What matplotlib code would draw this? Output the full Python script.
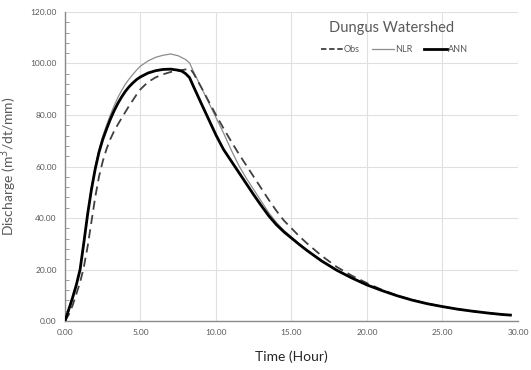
import matplotlib
matplotlib.use("Agg")
import matplotlib.pyplot as plt
from matplotlib.ticker import MultipleLocator, FormatStrFormatter
from matplotlib.lines import Line2D

plt.rcParams['font.family'] = ['Lato', 'DejaVu Sans']

# Time (hour) and discharge values
t_ann = [0, 0.25, 0.5, 0.75, 1.0, 1.25, 1.5, 1.75, 2.0, 2.25, 2.5, 2.75, 3.0, 3.25, 3.5, 3.75,
         4.0, 4.25, 4.5, 4.75, 5.0, 5.5, 6.0, 6.5, 7.0, 7.5, 7.75, 8.0, 8.25, 8.5, 8.75, 9.0,
         9.5, 10.0, 10.5, 11.0, 11.5, 12.0, 12.5, 13.0, 13.5, 14.0, 14.5, 15.0, 15.5, 16,
         17, 18, 19, 20, 21, 22, 23, 24, 25, 26, 27, 28, 29, 29.5]
q_ann = [0, 4.5, 9, 14, 20, 30.5, 41.5, 51, 59, 65.5, 70.5, 74.5, 78.3, 81.6, 84.5, 87,
         89.2, 91, 92.5, 93.8, 94.8, 96.3, 97.2, 97.7, 97.8, 97.4, 97.0, 96.0, 94.5, 91.2, 88, 84.8,
         78.5, 72.2, 66.6, 62.2, 57.8, 53.4, 49.0, 44.8, 40.8, 37.4, 34.6, 32.2, 29.8, 27.5,
         23.3, 19.7, 16.7, 14.0, 11.8, 9.8, 8.1, 6.7, 5.6, 4.6, 3.8, 3.1, 2.5, 2.3]

t_nlr = [0, 0.25, 0.5, 0.75, 1.0, 1.25, 1.5, 1.75, 2.0, 2.25, 2.5, 2.75, 3.0, 3.25, 3.5, 3.75,
         4.0, 4.25, 4.5, 4.75, 5.0, 5.5, 6.0, 6.5, 7.0, 7.5, 8.0, 8.25, 8.5, 9.0,
         9.5, 10.0, 10.5, 11.0, 11.5, 12.0, 12.5, 13.0, 13.5, 14.0, 14.5, 15.0, 15.5, 16,
         17, 18, 19, 20, 21, 22, 23, 24, 25, 26, 27, 28, 29, 29.5]
q_nlr = [0, 4.5, 9, 14, 20.5, 31, 42, 52, 60, 66.5, 71.8, 76, 80, 83.5, 86.8, 89.5,
         92, 94, 95.8, 97.5, 99, 101, 102.4, 103.2, 103.7, 103.0, 101.5, 100.2, 97, 91,
         85, 79, 73, 66.5, 60.5, 55.5, 51, 46.5, 42, 38.3, 35.2, 32.6, 30, 27.7,
         23.5, 19.8, 16.8, 14.1, 11.9, 9.9, 8.2, 6.8, 5.6, 4.6, 3.8, 3.1, 2.5, 2.3]

t_obs = [0, 0.25, 0.5, 0.75, 1.0, 1.25, 1.5, 1.75, 2.0, 2.25, 2.5, 2.75, 3.0, 3.25, 3.5, 3.75,
         4.0, 4.25, 4.5, 4.75, 5.0, 5.5, 6.0, 6.5, 7.0, 7.5, 8.0, 8.3, 8.5, 9.0,
         9.5, 10.0, 10.5, 11.0, 11.5, 12.0, 12.5, 13.0, 13.5, 14.0, 14.5, 15.0, 15.5, 16,
         17, 18, 19, 20, 21, 22, 23, 24, 25, 26, 27, 28, 29, 29.5]
q_obs = [0, 2.5, 6, 10.5, 15, 21, 29, 38.5, 48, 56, 62, 66.8, 70.6, 73.7, 76.3, 78.8,
         81.2, 83.6, 85.8, 88, 90, 92.8, 94.6, 95.8, 96.7, 97.2, 97.7, 97.9, 96.3, 91,
         85.5, 80, 74.8, 69.8, 65, 60.5, 56, 51.5, 47, 42.8, 39, 36, 33, 30.3,
         25.3, 21.0, 17.6, 14.7, 12.1, 9.9, 8.2, 6.8, 5.6, 4.6, 3.8, 3.1, 2.5, 2.3]

fig = plt.figure(figsize=(5.31, 3.70), dpi=100)
ax = fig.add_axes([0.1224, 0.1324, 0.8531, 0.8352])

ax.plot(t_nlr, q_nlr, color='#8c8c8c', lw=0.9, label='NLR', zorder=3)
ax.plot(t_obs, q_obs, color='#404040', lw=1.3, ls=(0, (5, 3)), label='Obs', zorder=4)
ax.plot(t_ann, q_ann, color='black', lw=2.0, label='ANN', zorder=5)

ax.set_xlim(0, 30)
ax.set_ylim(0, 120)
ax.xaxis.set_major_locator(MultipleLocator(5))
ax.yaxis.set_major_locator(MultipleLocator(20))
ax.yaxis.set_minor_locator(MultipleLocator(4))
ax.xaxis.set_major_formatter(FormatStrFormatter('%.2f'))
ax.yaxis.set_major_formatter(FormatStrFormatter('%.2f'))
ax.grid(True, which='major', color='#e0e0e0', lw=0.8, zorder=0)
ax.set_axisbelow(True)
for s in ['top', 'right']:
    ax.spines[s].set_visible(False)
for s in ['left', 'bottom']:
    ax.spines[s].set_color('#8a8a8a')
    ax.spines[s].set_linewidth(1.0)
ax.tick_params(axis='both', which='major', labelsize=6, colors='#8a8a8a', labelcolor='#595959', length=0, pad=6)
ax.tick_params(axis='y', which='minor', direction='in', length=3, color='#8a8a8a', width=0.6)

ax.set_xlabel('Time (Hour)', fontsize=10, color='#262626', labelpad=10)
ax.set_ylabel('Discharge (m$^3$/dt/mm)', fontsize=10, color='#595959', labelpad=8)

ax.text(0.721, 0.948, 'Dungus Watershed', transform=ax.transAxes, ha='center', va='center',
        fontsize=10.5, color='#595959')
handles = [Line2D([], [], color='#404040', lw=1.3, ls=(0, (3, 1.5))),
           Line2D([], [], color='#8c8c8c', lw=0.9),
           Line2D([], [], color='black', lw=2.0)]
leg = ax.legend(handles, ['Obs', 'NLR', 'ANN'], loc='center', bbox_to_anchor=(0.727, 0.877),
                ncol=3, frameon=False, fontsize=6.5, handlelength=2.5, handletextpad=0.1,
                columnspacing=1.3, borderpad=0)
for txt in leg.get_texts():
    txt.set_color('#595959')

fig.savefig('out.png', dpi=100)
